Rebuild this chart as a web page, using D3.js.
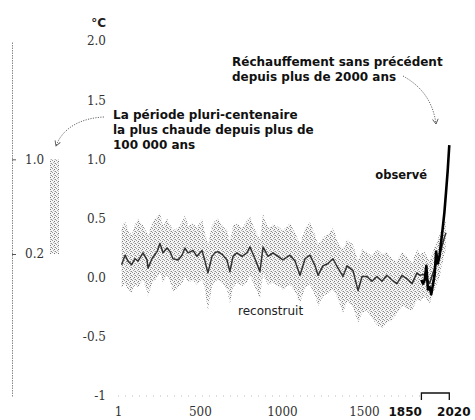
<!DOCTYPE html>
<html>
<head>
<meta charset="utf-8">
<script src="https://cdn.jsdelivr.net/npm/d3@7"></script>
<style>
  html, body { margin: 0; padding: 0; background: #fff; }
  svg { display: block; }
</style>
</head>
<body>
<svg id="chart" width="475" height="420"></svg>
<script>
// Reconstructed global surface temperature (°C, relative to 1850–1900)
const reconYears = [23, 44, 62, 84, 105, 123, 153, 178, 184, 208, 239, 257, 275, 300, 318, 336, 367, 391, 409, 428,
  458, 482, 513, 531, 549, 574, 592, 610, 641, 665, 683, 702, 726, 757, 787, 805, 836, 866, 885, 915,
  946, 976, 1006, 1049, 1080, 1110, 1141, 1171, 1202, 1220, 1250, 1281, 1311, 1342, 1372, 1397, 1433, 1464, 1488, 1518,
  1549, 1579, 1610, 1640, 1671, 1701, 1732, 1762, 1793, 1823, 1841, 1870, 1900, 1930, 1960, 1990, 2000];
const reconValues = [0.11, 0.19, 0.14, 0.11, 0.16, 0.14, 0.21, 0.15, 0.08, 0.16, 0.22, 0.29, 0.21, 0.25, 0.22, 0.16, 0.15, 0.19, 0.25, 0.21,
  0.23, 0.18, 0.23, 0.14, 0.04, 0.18, 0.21, 0.22, 0.19, 0.15, 0.05, 0.18, 0.21, 0.18, 0.21, 0.26, 0.16, 0.05, 0.26, 0.18,
  0.21, 0.18, 0.15, 0.19, 0.14, 0.02, 0.16, 0.19, 0.10, 0.02, 0.10, 0.12, 0.16, 0.08, 0.01, 0.10, 0.06, -0.11, 0.01, 0.01,
  -0.03, 0.01, -0.03, 0.02, -0.02, -0.05, 0.02, -0.01, -0.05, 0.04, 0.02, 0.03, -0.05, 0.08, 0.18, 0.34, 0.38];
const reconUpper = [0.42, 0.48, 0.40, 0.36, 0.45, 0.50, 0.44, 0.38, 0.35, 0.46, 0.52, 0.55, 0.44, 0.50, 0.45, 0.40, 0.42, 0.47, 0.53, 0.44,
  0.46, 0.42, 0.50, 0.38, 0.28, 0.44, 0.48, 0.50, 0.43, 0.40, 0.30, 0.44, 0.46, 0.42, 0.48, 0.52, 0.40, 0.32, 0.54, 0.42,
  0.45, 0.43, 0.40, 0.46, 0.38, 0.28, 0.42, 0.47, 0.36, 0.28, 0.34, 0.37, 0.42, 0.30, 0.24, 0.32, 0.28, 0.14, 0.24, 0.22,
  0.18, 0.24, 0.20, 0.22, 0.16, 0.14, 0.22, 0.18, 0.12, 0.24, 0.20, 0.22, 0.14, 0.26, 0.36, 0.46, 0.48];
const reconLower = [-0.08, -0.05, -0.10, -0.13, -0.06, -0.08, -0.02, -0.11, -0.16, -0.05, 0.00, 0.04, -0.04, 0.02, -0.03, -0.12, -0.08, -0.05, 0.01, -0.04,
  -0.02, -0.06, -0.01, -0.10, -0.28, -0.07, -0.03, -0.02, -0.05, -0.10, -0.22, -0.08, -0.04, -0.07, -0.04, 0.02, -0.08, -0.18, 0.03, -0.06,
  -0.04, -0.07, -0.10, -0.06, -0.12, -0.22, -0.08, -0.06, -0.15, -0.24, -0.16, -0.13, -0.10, -0.18, -0.30, -0.20, -0.25, -0.38, -0.30, -0.28,
  -0.34, -0.40, -0.43, -0.38, -0.36, -0.30, -0.24, -0.26, -0.28, -0.18, -0.20, -0.16, -0.22, -0.10, 0.00, 0.20, 0.24];

// Observed global surface temperature (°C, relative to 1850–1900)
const obsYears = [1850, 1860, 1870, 1880, 1890, 1900, 1910, 1920, 1930, 1940, 1950, 1960, 1970, 1980, 1990, 2000, 2010, 2020];
const obsValues = [-0.02, -0.05, -0.02, 0.10, -0.10, -0.08, -0.14, -0.06, 0.02, 0.22, 0.12, 0.18, 0.30, 0.42, 0.55, 0.72, 0.90, 1.12];

// Warmest multi-century period in more than 100,000 years
const warmestRange = [0.2, 1.0];
const warmestTicks = [1.0, 0.2];
const warmestTickLabels = ["1.0", "0.2"];

// Axis ticks
const yTicks = [2.0, 1.5, 1.0, 0.5, 0.0, -0.5, -1];
const yTickLabels = ["2.0", "1.5", "1.0", "0.5", "0.0", "-0.5", "-1"];
const xTicks = [1, 500, 1000, 1500];
const xTickLabels = ["1", "500", "1000", "1500"];
const periodTicks = [1850, 2020];
const periodTickLabels = ["1850", "2020"];

const svg = d3.select("#chart");
const x = d3.scaleLinear().domain([1, 2020]).range([118, 449.3]);
const y = d3.scaleLinear().domain([-1, 2]).range([396, 41]);

const sans = "'DejaVu Sans', sans-serif";
const serif = "'DejaVu Serif', serif";

// Stippled grey fill for uncertainty ranges
const defs = svg.append("defs");
const pat = defs.append("pattern").attr("id", "stipple")
  .attr("width", 4).attr("height", 4).attr("patternUnits", "userSpaceOnUse");
pat.append("rect").attr("width", 4).attr("height", 4).attr("fill", "#f6f6f6");
[[0, 0, "#9a9a9a"], [2, 1, "#7a7a7a"], [1, 2, "#b0b0b0"], [3, 3, "#8c8c8c"], [2, 3, "#cccccc"]]
  .forEach(([px, py, c]) => pat.append("rect").attr("x", px).attr("y", py).attr("width", 1).attr("height", 1).attr("fill", c));

defs.append("marker").attr("id", "arrow")
  .attr("viewBox", "0 0 10 10").attr("refX", 8).attr("refY", 5)
  .attr("markerWidth", 7).attr("markerHeight", 7).attr("orient", "auto-start-reverse")
  .append("path").attr("d", "M1,1 L8,5 L1,9").attr("fill", "none").attr("stroke", "#555").attr("stroke-width", 1.3);

// ---- Left inset: warmest multi-century period ----
const inset = svg.append("g").attr("transform", "translate(12,0)")
  .call(d3.axisRight(y).tickValues(warmestTicks)
    .tickFormat((d, i) => warmestTickLabels[i]).tickSize(4).tickSizeOuter(0).tickPadding(9));
inset.select(".domain").attr("stroke", "#888").attr("stroke-dasharray", "1.5,1");
inset.selectAll(".tick line").attr("stroke", "#555");
inset.selectAll(".tick text").attr("font-family", serif).attr("font-size", 12).attr("fill", "#333");

svg.append("rect")
  .attr("x", 50).attr("width", 9)
  .attr("y", y(warmestRange[1])).attr("height", y(warmestRange[0]) - y(warmestRange[1]))
  .attr("fill", "url(#stipple)");

// ---- Main axes ----
const yAxis = svg.append("g").attr("transform", "translate(106,0)")
  .call(d3.axisLeft(y).tickValues(yTicks).tickFormat((d, i) => yTickLabels[i]).tickSize(0).tickPadding(0));
yAxis.select(".domain").remove();
yAxis.selectAll(".tick text").attr("font-family", serif).attr("font-size", 12).attr("fill", "#333");

svg.append("text").attr("x", 106).attr("y", 27).attr("text-anchor", "end")
  .attr("font-family", sans).attr("font-weight", 700).attr("font-size", 12).attr("fill", "#222").text("°C");

// faint baseline along the bottom
svg.append("line")
  .attr("x1", x(1)).attr("x2", x(1850)).attr("y1", y(-1)).attr("y2", y(-1))
  .attr("stroke", "#bbb").attr("stroke-dasharray", "1,6");

const xAxis = svg.append("g").attr("transform", `translate(0,${y(-1) + 11})`)
  .call(d3.axisBottom(x).tickValues(xTicks).tickFormat((d, i) => xTickLabels[i]).tickSize(0).tickPadding(0));
xAxis.select(".domain").remove();
xAxis.selectAll(".tick text").attr("font-family", serif).attr("font-size", 12).attr("fill", "#333");

const pAxis = svg.append("g").attr("transform", `translate(0,${y(-1) + 11})`)
  .call(d3.axisBottom(x).tickValues(periodTicks).tickFormat((d, i) => periodTickLabels[i]).tickSize(0).tickPadding(0));
pAxis.select(".domain").remove();
pAxis.selectAll(".tick text").attr("font-family", sans).attr("font-weight", 700).attr("font-size", 12).attr("fill", "#111")
  .attr("text-anchor", (d, i) => i === 0 ? "end" : "middle")
  .attr("dx", (d, i) => i === 0 ? 0 : 4);

// bracket marking 1850–2020
const br = d3.path();
br.moveTo(x(1850), y(-1) + 4); br.lineTo(x(1850), y(-1) - 3);
br.lineTo(x(2020), y(-1) - 3); br.lineTo(x(2020), y(-1) + 4);
svg.append("path").attr("d", br.toString()).attr("fill", "none").attr("stroke", "#111").attr("stroke-width", 1.3);

// ---- Reconstruction band and line ----
const recon = reconYears.map((yr, i) => ({ yr, v: reconValues[i], hi: reconUpper[i], lo: reconLower[i] }));
svg.append("path").datum(recon)
  .attr("d", d3.area().x(d => x(d.yr)).y0(d => y(d.lo)).y1(d => y(d.hi)))
  .attr("fill", "url(#stipple)");
svg.append("path").datum(recon)
  .attr("d", d3.line().x(d => x(d.yr)).y(d => y(d.v)))
  .attr("fill", "none").attr("stroke", "#333").attr("stroke-width", 1.5).attr("stroke-linejoin", "round");

// ---- Observed line ----
const obs = obsYears.map((yr, i) => ({ yr, v: obsValues[i] }));
svg.append("path").datum(obs)
  .attr("d", d3.line().x(d => x(d.yr)).y(d => y(d.v)))
  .attr("fill", "none").attr("stroke", "#000").attr("stroke-width", 2.6).attr("stroke-linejoin", "round");

// ---- Labels and annotations ----
function boldLines(x0, y0, lines, step) {
  const t = svg.append("text").attr("font-family", sans).attr("font-weight", 700)
    .attr("font-size", 12).attr("fill", "#111");
  lines.forEach((s, i) => t.append("tspan").attr("x", x0).attr("y", y0 + i * step).text(s));
}
boldLines(113, 119, ["La période pluri-centenaire", "la plus chaude depuis plus de", "100 000 ans"], 15);
boldLines(232, 66, ["Réchauffement sans précédent", "depuis plus de 2000 ans"], 15);

svg.append("text").attr("x", 427).attr("y", 179).attr("text-anchor", "end")
  .attr("font-family", sans).attr("font-weight", 700).attr("font-size", 11.5).attr("fill", "#111").text("observé");
svg.append("text").attr("x", 238).attr("y", 315)
  .attr("font-family", sans).attr("font-size", 12).attr("fill", "#222").text("reconstruit");

// dotted arrows
svg.append("path").attr("d", "M104,117 C82,118 63,127 56,146")
  .attr("fill", "none").attr("stroke", "#666").attr("stroke-dasharray", "1.2,1.3").attr("marker-end", "url(#arrow)");
svg.append("path").attr("d", "M403,76 C421,86 433,101 436,124")
  .attr("fill", "none").attr("stroke", "#666").attr("stroke-dasharray", "1.2,1.3").attr("marker-end", "url(#arrow)");
</script>
</body>
</html>
